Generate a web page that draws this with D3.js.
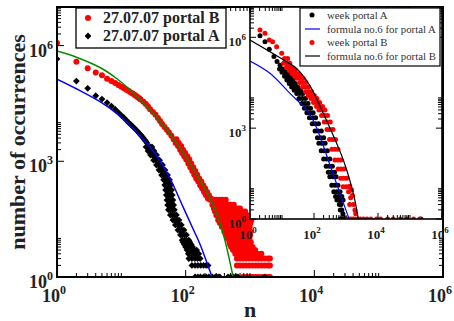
<!DOCTYPE html>
<html><head><meta charset="utf-8">
<script src="https://cdn.jsdelivr.net/npm/d3@7"></script>
<style>body{margin:0;background:#fff}svg{display:block}</style>
</head><body><svg id="c" width="454" height="321"></svg>
<script>
// ---------- DATA ----------
// main panel: 27.07.07 portal B (red circles) [n, occurrences]
const mainPortalB = [[1,1.17e6],[2,3.8e5],[3,2.6e5],[4,2.0e5],[5,1.7e5],[6,1.38e5],[7,1.2e5],[8,1.07e5],[9,9.5e4],[10,8.5e4],[11,7.8e4],[12,7.2e4],[13,6.6e4],[14,6.1e4],[15,5.7e4],[16,5.3e4],[17,4.9e4],[18,4.6e4],[19,4.3e4],[20,4.0e4],[22,3.5e4],[24,3.05e4],[26,2.65e4],[28,2.25e4],[31,1.9e4],[34,1.6e4],[37,1.32e4],[40,1.1e4],[43,9.3e3],[47,7.8e3],[51,6.6e3],[55,5.6e3],[60,4.6e3],[65,3.7e3],[70,3.0e3],[76,2.5e3],[82,2.0e3],[88,1.64e3],[95,1.36e3],[102,1.12e3],[110,880],[118,700],[127,560],[136,450],[146,360],[157,300],[168,240],[180,200],[193,160],[207,132],[222,108],
 [72,3.7e3],[78,3.0e3],[85,2.5e3],[91,2.0e3],[98,1.64e3],[106,1.36e3],[114,1.12e3],[122,880],[131,700],[141,560],[151,450],[162,360],[175,300],[187,240],[200,200],[215,160],[230,132],[247,108]];
// tail of portal B: [occurrences, list of n]
const mainPortalBTail = [
 [100,[240,270,300,335,370,420]],
 [75,[260,290,325,360,400,450,500,560]],
 [60,[275,310,345,385,430,480,530,590,650,700]],
 [50,[286,320,360,400,450,500,560,620,690,760,840]],
 [40,[300,340,380,425,475,530,590,650,720,800,880,1000]],
 [30,[320,360,400,450,500,560,620,690,760,840,930,1050]],
 [25,[340,380,425,475,530,590,660,740,830,920,1020]],
 [20,[365,410,460,510,570,640,710,790,890,990]],
 [15,[400,445,500,560,620,690,770,860,940,1020]],
 [12,[430,480,535,595,665,740,830,920,1000]],
 [10,[450,500,560,625,700,780,870,980]],
 [8,[480,535,600,670,750,840,940,1030]],
 [7,[490,550,615,690,770,860,960]],
 [6,[510,570,640,715,800,895,1000,1100]],
 [5,[545,610,680,760,850,950,1060,1200]],
 [4,[590,660,740,830,930,1040,1160,1300,1500]],
 [3,[627,700,780,870,975,1090,1220,1360,1520,1700,1900,2040]],
 [2,[627,700,780,870,975,1090,1220,1360,1520,1700,1900,2040]],
 [1,[780,870,975,1090,1220,1360,1520,1700,1900,2040]]];
// main panel: 27.07.07 portal A (black diamonds)
const mainPortalA = [[1,4.5e5],[2,1.2e5],[3,7.8e4],[4,5.0e4],[5,4.1e4],[6,3.3e4],[7,2.7e4],[8,2.25e4],[9,1.85e4],[10,1.55e4],[11,1.35e4],[12,1.15e4],[13,1.0e4],[14,9.0e3],[15,8.0e3],[16,7.2e3],[17,6.5e3],[18,5.9e3],[19,5.3e3],[20,4.8e3],[21,4.4e3],[22,4.0e3],[23,3.6e3],[24,3.3e3],[25,3.0e3]];
const mainPortalABand = [
 [2350,[24.2,26.0,27.9,29.9]],[1850,[26.0,27.9,29.9,32.2]],[1450,[28.5,30.6,32.8,35.3]],[1070,[31.7,34.1,36.6,39.3]],
 [800,[35.2,37.8,40.6,43.6]],[590,[38.5,41.4,44.4,47.7]],[440,[42.2,45.4,48.7,52.3]],[330,[45.4,48.7,52.3,56.2]],
 [243,[47.4,51.0,54.7,58.8]],[180,[48.8,52.4,56.3,60.4]],[133,[50.0,53.7,57.6,61.9]],[99,[51.2,55.0,59.1,63.4]],
 [73.5,[52.5,56.4,60.5,65.0]],[55,[53.9,57.9,62.2,66.8]],[40.5,[57.9,62.2,66.7,71.7]],[30,[63.4,68.1,73.1,78.6]],
 [22.4,[69.2,74.3,79.8,85.7]],[16.5,[75.9,81.6,87.5,94.0]],[12.3,[83.0,89.2,95.7,102.8]],
 [9,[88,96,103,112]],[8,[91,99,107,116]],[7,[95,103,112,122]],[6,[100,108,118,128]],
 [5,[105,115,125,136,148]],[4,[110,121,134,147,160]],[3,[112,125,139,153,168]],
 [2,[125,140,155,172,190,208,223]],
 [1,[140,155,170,190,210,230,260,290,320,340,455,500,560,610,650,1700]]];
// main panel fits
const mainFitA = [[1,1.35e5],[2,7.6e4],[4.66,3.5e4],[8.45,1.74e4],[15.3,7.1e3],[28,2.3e3],[36,1.35e3],[57,363],[91,66],[130,17.8],[167,7.1],[257,1]];
const mainFitB = [[1,7.2e5],[2,5.0e5],[4.66,2.7e5],[8.45,1.4e5],[15.3,6.0e4],[27.9,2.14e4],[57,5.2e3],[108,1.07e3],[167,316],[230,126],[307,42],[400,10],[547,1]];
// inset: week portal A (black circles)
const weekPortalA = [[2.05,1.12e6],[2.94,7.1e5],[4,4.0e5],[5.6,2.3e5],[7,1.6e5],[8.7,1.2e5],
 [10.5,9.0e4],[12.5,7.0e4],[15,5.2e4],[17.8,3.9e4],[21,3.0e4],[25,2.3e4],[30,1.8e4],[36,1.4e4],[43,9.5e3],[52,6.5e3],[62,4.5e3],[75,3.2e3],[90,2.2e3],[110,1.4e3],[135,800],[160,480],[178,320],[210,180],[250,95],[300,55],[350,35],[390,25],[450,13],[520,8],[590,5.5],[650,4.2],
 [13,9.0e4],[15.6,7.0e4],[19,5.2e4],[22,3.9e4],[26,3.0e4],[31,2.3e4],[38,1.8e4],[45,1.4e4],[54,9.5e3],[65,6.5e3],[78,4.5e3],[94,3.2e3],[112,2.2e3],[138,1.4e3],[169,800],[200,480],[222,320],[262,180],[312,95],[375,55],[437,35],[490,25],[560,13],[650,8],[740,5.5],[810,4.2],
 [8.4,9.0e4],[10,7.0e4],[12,5.2e4],[14.2,3.9e4],[16.8,3.0e4],[20,2.3e4],[24,1.8e4],[29,1.4e4],[34,9.5e3],[42,6.5e3],[50,4.5e3],[60,3.2e3],[72,2.2e3],[88,1.4e3],[108,800],[128,480],[142,320],[168,180],[200,95],[240,55],[280,35],[312,25],[360,13],[416,8],[472,5.5],[520,4.2],
 [700,3],[740,2],[800,1.5],[620,3],[660,2],[660,1],[720,1],[790,1],[860,1],[940,1],[1000,1],[2.2e5,1]];
// inset: week portal B (red circles)
const weekPortalB = [[2.05,1.74e6],[2.94,1.35e6],[4,8.1e5],[5.1,7.1e5],[6.8,4.9e5],[9.8,2.95e5],
 [12,2.0e5],[14,1.4e5],[17,1.0e5],[21,8.0e4],[26,6.3e4],[31,5.2e4],[36.5,4.4e4],[45,3.2e4],[55,2.3e4],[67,1.6e4],[82,1.2e4],[100,9.5e3],[121,7.0e3],[150,5.2e3],[178,4.0e3],[215,2.6e3],[260,1.6e3],[316,900],[380,420],[450,200],[560,89],[700,45],[850,22],[1000,11.7],
 [15,2.0e5],[17.5,1.4e5],[21,1.0e5],[26,8.0e4],[32,6.3e4],[38,5.2e4],[45,4.4e4],[56,3.2e4],[68,2.3e4],[83,1.6e4],[102,1.2e4],[124,9.5e3],[150,7.0e3],[186,5.2e3],[220,4.0e3],[266,2.6e3],[322,1.6e3],[392,900],[470,420],[560,200],[690,89],[860,45],[1050,22],[1240,11.7],
 [11.2,1.4e5],[13.7,1.0e5],[17,8.0e4],[21,6.3e4],[25,5.2e4],[29,4.4e4],[36,3.2e4],[44,2.3e4],[54,1.6e4],[66,1.2e4],[80,9.5e3],[97,7.0e3],[120,5.2e3],[143,4.0e3],[173,2.6e3],[210,1.6e3],[255,900],[306,420],[363,200],[450,89],[565,45],[685,22],[810,11.7],
 [1200,8],[1400,5],[1500,9],[1700,3],[1900,2],[1300,3],[2000,1.5],[1600,6],[1300,12],
 [1000,1],[1200,1],[1400,1],[1650,1],[1900,1],[2300,1],[2800,1],[3500,1],[4500,1],[6000,1],[9000,1],[1.2e4,1],[2e4,1],[3e4,1],[5e4,1],[8e4,1],[1.3e5,1],[2e5,1]];
// inset fits
const weekFitA = [[1,1.65e5],[4.2,6.5e4],[17.8,1.4e4],[59,4.0e3],[95,1.78e3],[160,480],[278,89],[650,7],[1178,1.2],[1250,1]];
const weekFitB = [[1,8.1e5],[11,1.8e5],[30,8.9e4],[75,2.5e4],[174,4.0e3],[824,89],[1692,7],[2410,1.05]];
// axis ticks
const xMajor = [1,1e2,1e4,1e6];
const yMajor = [1,1e3,1e6];
const xMinorBases = [1,1e2,1e4];
const yMinorBases = [1,1e3,1e6];
const mult = [2,3,4,5,6,7,8,9,10];
const xTickExp = ["0","2","4","6"];
const yTickExp = ["0","3","6"];
const legendMain = ["27.07.07 portal B","27.07.07 portal A"];
const legendInset = ["week portal A","formula no.6 for portal A","week portal B","formula no.6 for portal B"];

// ---------- DRAWING ----------
const svg = d3.select("#c");
const RED="#ff0000", BLUE="#0000ff", GREEN="#008c00";
const SERIF="'Liberation Serif','Times New Roman',serif";

const xM = d3.scaleLog().domain([1,1e6]).range([57,443]);
const yM = d3.scaleLog().domain([1,1e7]).range([277,7]);
const xI = d3.scaleLog().domain([1,1e6]).range([250,442]);
const yI = d3.scaleLog().domain([1,1e7]).range([219,7]);

const defs = svg.append("defs");
defs.append("clipPath").attr("id","clipM").append("rect").attr("x",57).attr("y",7).attr("width",386).attr("height",270);
defs.append("clipPath").attr("id","clipI").append("rect").attr("x",250).attr("y",7).attr("width",192).attr("height",212);

const diamond = r => `M0,${-r}L${r},0L0,${r}L${-r},0Z`;
const flatRows = rows => rows.flatMap(([c,ns])=>ns.map(n=>[n,c]));

function minorVals(bases){const v=[];bases.forEach(b=>mult.forEach(m=>v.push(b*m)));return v;}

function frame(g,x,y,o){
  const [x0,x1]=x.range(), [y0,y1]=y.range();
  g.append("rect").attr("x",x0).attr("y",y1).attr("width",x1-x0).attr("height",y0-y1)
   .attr("fill","none").attr("stroke","#000").attr("stroke-width",o.sw);
  const t=g.append("g").attr("stroke","#000").attr("stroke-width",1);
  xMajor.forEach(v=>{const px=x(v);
    t.append("line").attr("x1",px).attr("x2",px).attr("y1",y0).attr("y2",y0-o.maj);
    t.append("line").attr("x1",px).attr("x2",px).attr("y1",y1).attr("y2",y1+o.maj);});
  minorVals(xMinorBases).forEach(v=>{const px=x(v);
    t.append("line").attr("x1",px).attr("x2",px).attr("y1",y0).attr("y2",y0-o.min);
    t.append("line").attr("x1",px).attr("x2",px).attr("y1",y1).attr("y2",y1+o.min);});
  yMajor.forEach(v=>{const py=y(v);
    t.append("line").attr("y1",py).attr("y2",py).attr("x1",x0).attr("x2",x0+o.maj);
    t.append("line").attr("y1",py).attr("y2",py).attr("x1",x1).attr("x2",x1-o.maj);});
  minorVals(yMinorBases).forEach(v=>{const py=y(v);
    t.append("line").attr("y1",py).attr("y2",py).attr("x1",x0).attr("x2",x0+o.min);
    t.append("line").attr("y1",py).attr("y2",py).attr("x1",x1).attr("x2",x1-o.min);});
}
function powLabel(g,px,py,exp,fs,fsup,anchor,supdy){
  const t=g.append("text").attr("x",px).attr("y",py).attr("text-anchor",anchor)
    .attr("font-family",SERIF).attr("font-weight","bold").attr("font-size",fs).attr("fill","#222");
  t.append("tspan").text("10");
  t.append("tspan").attr("dy",supdy).attr("font-size",fsup).text(exp);
}

// ---- main panel ----
const gm = svg.append("g");
const dm = gm.append("g").attr("clip-path","url(#clipM)");
dm.append("g").selectAll("circle").data(mainPortalB.concat(flatRows(mainPortalBTail))).join("circle")
  .attr("cx",d=>xM(d[0])).attr("cy",d=>yM(d[1])).attr("r",3).attr("fill",RED);
dm.append("g").selectAll("path").data(mainPortalA.concat(flatRows(mainPortalABand))).join("path")
  .attr("transform",d=>`translate(${xM(d[0])},${yM(d[1])})`).attr("d",diamond(3.4)).attr("fill","#000");
const lineM = d3.line().x(d=>xM(d[0])).y(d=>yM(d[1])).curve(d3.curveCatmullRom.alpha(0.5));
dm.append("path").datum(mainFitB).attr("d",lineM).attr("fill","none").attr("stroke",GREEN).attr("stroke-width",1.5);
dm.append("path").datum(mainFitA).attr("d",lineM).attr("fill","none").attr("stroke",BLUE).attr("stroke-width",1.5);
frame(gm,xM,yM,{sw:2,maj:7,min:4});
xMajor.forEach((v,i)=>powLabel(gm,xM(v)-3,302,xTickExp[i],18,12,"middle",-8));
yMajor.forEach((v,i)=>powLabel(gm,53,yM(v)+11,yTickExp[i],18,12,"end",-8));
gm.append("text").attr("x",250).attr("y",317).attr("text-anchor","middle").attr("font-family",SERIF)
  .attr("font-weight","bold").attr("font-size",22).attr("fill","#222").text("n");
gm.append("text").attr("transform","translate(25,142) rotate(-90)").attr("text-anchor","middle").attr("font-family",SERIF)
  .attr("font-weight","bold").attr("font-size",22).attr("fill","#222").text("number of occurrences");

// ---- inset ----
const gi = svg.append("g");
gi.append("rect").attr("x",250).attr("y",7).attr("width",192).attr("height",212).attr("fill","#fff");
const di = gi.append("g").attr("clip-path","url(#clipI)");
di.append("g").selectAll("circle").data(weekPortalA).join("circle")
  .attr("cx",d=>xI(d[0])).attr("cy",d=>yI(d[1])).attr("r",2.5).attr("fill","#000");
di.append("g").selectAll("circle").data(weekPortalB).join("circle")
  .attr("cx",d=>xI(d[0])).attr("cy",d=>yI(d[1])).attr("r",2.5).attr("fill",RED);
const lineI = d3.line().x(d=>xI(d[0])).y(d=>yI(d[1])).curve(d3.curveCatmullRom.alpha(0.5));
di.append("path").datum(weekFitA).attr("d",lineI).attr("fill","none").attr("stroke",BLUE).attr("stroke-width",1.2);
di.append("path").datum(weekFitB).attr("d",lineI).attr("fill","none").attr("stroke","#000").attr("stroke-width",1.2);
frame(gi,xI,yI,{sw:1.6,maj:6,min:4});
xMajor.forEach((v,i)=>powLabel(gi,xI(v)-2,239,xTickExp[i],13,9,"middle",-6));
yMajor.forEach((v,i)=>powLabel(gi,246,yI(v)+8.5,yTickExp[i],13,9,"end",-6));

// inset legend
const li = gi.append("g");
li.append("rect").attr("x",300).attr("y",8).attr("width",140).attr("height",58).attr("fill","#fff").attr("stroke","#000").attr("stroke-width",1.2);
const rowsI=[15,29,42.5,56];
legendInset.forEach((s,i)=>{
  li.append("text").attr("x",327).attr("y",rowsI[i]+3.5).attr("font-family",SERIF).attr("font-size",10.8).attr("fill","#333").text(s);
});
li.append("circle").attr("cx",312).attr("cy",rowsI[0]).attr("r",2.5).attr("fill","#000");
li.append("line").attr("x1",305).attr("x2",320).attr("y1",rowsI[1]).attr("y2",rowsI[1]).attr("stroke",BLUE).attr("stroke-width",1.2);
li.append("circle").attr("cx",312).attr("cy",rowsI[2]).attr("r",2.5).attr("fill",RED);
li.append("line").attr("x1",305).attr("x2",320).attr("y1",rowsI[3]).attr("y2",rowsI[3]).attr("stroke","#000").attr("stroke-width",1.2);

// main legend
const lm = svg.append("g");
lm.append("rect").attr("x",76).attr("y",8).attr("width",150).attr("height",40).attr("fill","#fff").attr("stroke","#000").attr("stroke-width",1.3);
lm.append("circle").attr("cx",88).attr("cy",18).attr("r",3).attr("fill",RED);
lm.append("path").attr("transform","translate(88,36)").attr("d",diamond(3.4)).attr("fill","#000");
legendMain.forEach((s,i)=>{
  lm.append("text").attr("x",103).attr("y",[23,40.5][i]).attr("font-family",SERIF).attr("font-weight","bold")
    .attr("font-size",16).attr("fill","#222").text(s);
});
</script></body></html>
